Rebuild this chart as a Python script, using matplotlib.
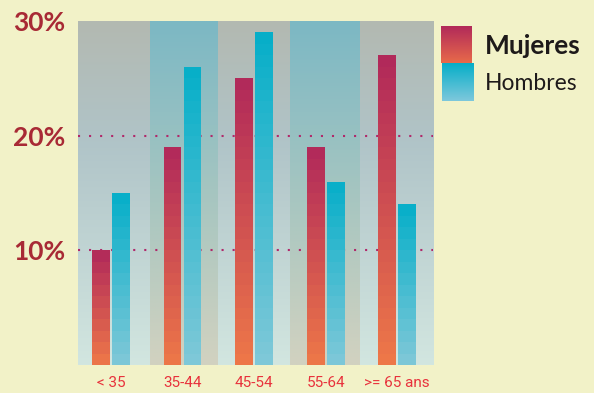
import numpy as np
import matplotlib
matplotlib.use("Agg")
import matplotlib.pyplot as plt
from matplotlib.colors import to_rgb

categories = ["< 35", "35-44", "45-54", "55-64", ">= 65 ans"]
mujeres = [10, 19, 25, 19, 27]
hombres = [15, 26, 29, 16, 14]
yticks = [10, 20, 30]
ytick_labels = ["10%", "20%", "30%"]
series_names = ["Mujeres", "Hombres"]

W, H = 594, 393
BG = "#f2f2c8"
fig = plt.figure(figsize=(W / 100, H / 100), dpi=100, facecolor=BG)

def px_axes(x0, y0, x1, y1):
    return fig.add_axes([x0 / W, 1 - y1 / H, (x1 - x0) / W, (y1 - y0) / H])

ax = px_axes(78, 21, 433, 365)
ax.set_xlim(-0.46, 4.5)
ax.set_ylim(0, 30)

def lerp(c1, c2, t):
    a, b = np.array(to_rgb(c1)), np.array(to_rgb(c2))
    return a + (b - a) * t

def grad_img(stops, n=200):
    pos = np.linspace(0, 1, n)
    img = np.zeros((n, 1, 3))
    for i, p in enumerate(pos):
        for (p0, c0), (p1, c1) in zip(stops[:-1], stops[1:]):
            if p0 <= p <= p1:
                img[i, 0] = lerp(c0, c1, (p - p0) / (p1 - p0))
                break
    return img

gray_band = grad_img([(0, "#b3b9b1"), (0.35, "#b0c4c8"), (1, "#d2e6e0")])
teal_band = grad_img([(0, "#7cb8c4"), (0.6, "#aec8c0"), (1, "#d2d2c0")])

edges = [-0.46, 0.54, 1.5, 2.5, 3.48, 4.5]
for i in range(5):
    img = gray_band if i % 2 == 0 else teal_band
    ax.imshow(img, extent=[edges[i], edges[i + 1], 0, 30], aspect="auto",
              zorder=0, interpolation="bilinear")

for yv in [10, 20]:
    ax.axhline(yv, color="#b0286a", lw=1.5, linestyle=(0, (1, 4.3)),
               dash_capstyle="butt", zorder=1)

x = np.arange(len(categories))
bw = 0.25
off = 0.14

def stepped_bar(xc, v, top_c, bot_c):
    n = max(int(round(v)), 1)
    h = v / n
    for k in range(n):
        t = 1 - (k + 0.5) / n  # 0 at top, 1 at bottom
        col = lerp(top_c, bot_c, t)
        ax.bar(xc, h, bottom=k * h, width=bw, color=col, linewidth=0, zorder=2)

for i in range(len(categories)):
    stepped_bar(x[i] - off, mujeres[i], "#b0285a", "#ee7848")
    stepped_bar(x[i] + off, hombres[i], "#05aec8", "#80c8d8")

for s in ax.spines.values():
    s.set_visible(False)
ax.set_yticks(yticks)
ax.set_yticklabels(ytick_labels, fontfamily="Lato", fontweight="bold",
                   fontsize=19, color="#a82a35")
ax.set_xticks(x)
ax.set_xticklabels(categories, fontfamily="Roboto", fontsize=11, color="#e8323c")
ax.tick_params(axis="both", length=0)
ax.tick_params(axis="y", pad=9)
ax.tick_params(axis="x", pad=8)

# legend
lax1 = px_axes(441, 26, 472, 63)
lax1.imshow(grad_img([(0, "#b0285a"), (1, "#e86a4a")]), aspect="auto", extent=[0, 1, 0, 1])
lax1.axis("off")
lax2 = px_axes(442, 63, 474, 101)
lax2.imshow(grad_img([(0, "#05aec8"), (1, "#7ec8dc")]), aspect="auto", extent=[0, 1, 0, 1])
lax2.axis("off")
fig.text(485 / W, 1 - 46 / H, series_names[0], fontfamily="Lato", fontweight="bold",
         fontsize=19, color="#1e1a1a", va="center", ha="left")
fig.text(485 / W, 1 - 83 / H, series_names[1], fontfamily="Lato",
         fontsize=16.5, color="#1e1a1a", va="center", ha="left")

fig.savefig("out.png", dpi=100, facecolor=BG)
